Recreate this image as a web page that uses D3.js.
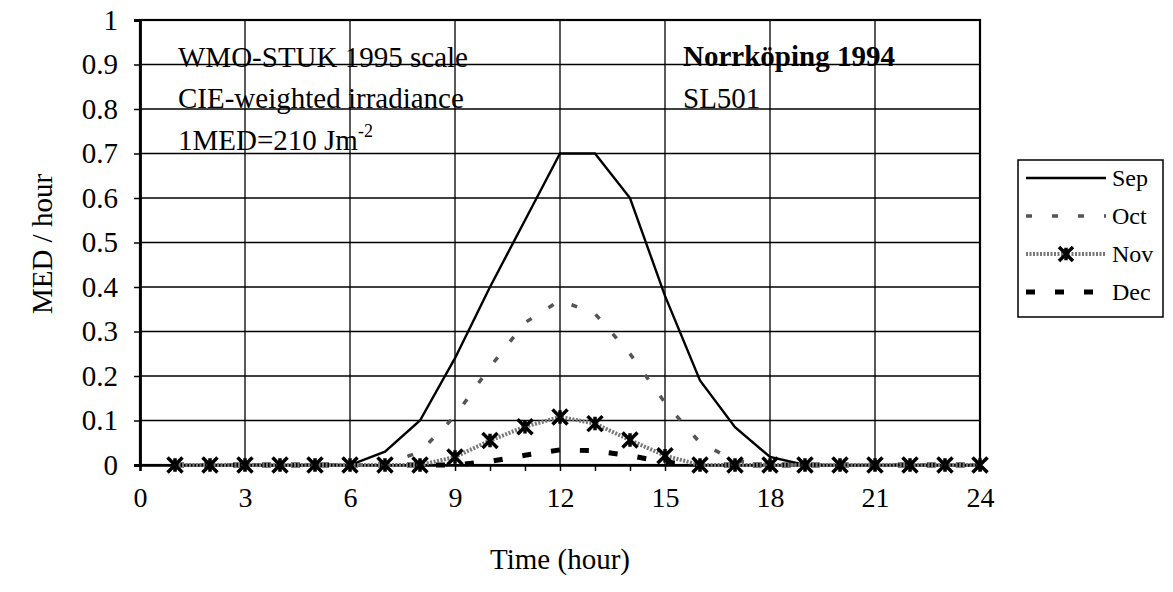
<!DOCTYPE html>
<html><head><meta charset="utf-8">
<script src="https://cdn.jsdelivr.net/npm/d3@7"></script>
<style>body{margin:0;background:#fff}svg{display:block}text{font-family:"Liberation Serif","Times New Roman",serif;fill:#000}</style>
</head><body><svg id="c" width="1173" height="592"></svg>
<script>
const hours = d3.range(1, 25);
const sep = [0,0,0,0,0,0,0.03,0.10,0.24,0.40,0.55,0.70,0.70,0.60,0.38,0.19,0.085,0.018,0,0,0,0,0,0];
const oct = [0,0,0,0,0,0,0,0.03,0.11,0.22,0.32,0.37,0.34,0.25,0.14,0.05,0.01,0,0,0,0,0,0,0];
const nov = [0,0,0,0,0,0,0,0,0.018,0.055,0.086,0.108,0.093,0.056,0.021,0,0,0,0,0,0,0,0,0];
const dec = [0,0,0,0,0,0,0,0,0,0.008,0.022,0.034,0.032,0.021,0.006,0,0,0,0,0,0,0,0,0];
const seriesNames = ["Sep","Oct","Nov","Dec"];
const xTicks = [0,3,6,9,12,15,18,21,24];
const yTicks = [0,0.1,0.2,0.3,0.4,0.5,0.6,0.7,0.8,0.9,1];
const notesLeft = ["WMO-STUK 1995 scale","CIE-weighted irradiance"];
const notesRight = ["Norrköping 1994","SL501"];

const svg = d3.select("#c");
const x = d3.scaleLinear().domain([0,24]).range([140,980]);
const y = d3.scaleLinear().domain([0,1]).range([465,20]);
const FF = '"Liberation Serif","Times New Roman",serif';

// grid
svg.append("g").selectAll("line").data(yTicks.slice(1)).join("line")
  .attr("x1",x(0)).attr("x2",x(24)).attr("y1",d=>y(d)).attr("y2",d=>y(d))
  .attr("stroke","#000").attr("stroke-width",1.3);
svg.append("g").selectAll("line").data(xTicks.slice(1)).join("line")
  .attr("x1",d=>x(d)).attr("x2",d=>x(d)).attr("y1",y(0)).attr("y2",y(1))
  .attr("stroke","#000").attr("stroke-width",1.3);
// frame
svg.append("rect").attr("x",x(0)).attr("y",y(1)).attr("width",x(24)-x(0)).attr("height",y(0)-y(1))
  .attr("fill","none").attr("stroke","#000").attr("stroke-width",2.2);

// axes
const xAxis = d3.axisBottom(x).tickValues(d3.range(0,25)).tickSize(6).tickFormat(d=>xTicks.includes(d)?d:"");
const gx = svg.append("g").attr("transform",`translate(0,${y(0)})`).call(xAxis);
gx.select(".domain").attr("stroke","#000").attr("stroke-width",2.5);
gx.selectAll(".tick line").attr("stroke","#000").attr("stroke-width",1.5);
gx.selectAll(".tick text").attr("font-size",28).attr("y",42).attr("dy",null).style("font-family",FF);

const yAxis = d3.axisLeft(y).tickValues(yTicks).tickSize(6).tickFormat(d=>d===0?"0":d===1?"1":d3.format(".1f")(d));
const gy = svg.append("g").attr("transform",`translate(${x(0)},0)`).call(yAxis);
gy.select(".domain").attr("stroke","#000").attr("stroke-width",2.8);
gy.selectAll(".tick line").attr("stroke","#000").attr("stroke-width",1.5);
gy.selectAll(".tick text").attr("font-size",29).attr("x",-22).style("font-family",FF);

// axis titles
svg.append("text").attr("x",560).attr("y",569).attr("text-anchor","middle").attr("font-size",29).text("Time (hour)");
svg.append("text").attr("transform","translate(52,244) rotate(-90)").attr("text-anchor","middle").attr("font-size",29).text("MED / hour");

// notes
svg.append("g").selectAll("text").data(notesLeft).join("text")
  .attr("x",178).attr("y",(d,i)=>67+i*41).attr("font-size",29).text(d=>d);
const t3 = svg.append("text").attr("x",178).attr("y",150).attr("font-size",29);
t3.append("tspan").text("1MED=210 Jm");
t3.append("tspan").attr("dy",-13).attr("font-size",18).text("-2");
svg.append("g").selectAll("text").data(notesRight).join("text")
  .attr("x",683).attr("y",(d,i)=>66+i*42).attr("font-size",29)
  .attr("font-weight",(d,i)=>i===0?"bold":"normal").text(d=>d);

const line = d3.line().x(d=>x(d[0])).y(d=>y(d[1]));
const pts = arr => hours.map((h,i)=>[h,arr[i]]);

// Dec
svg.append("path").attr("d",line(pts(dec))).attr("fill","none").attr("stroke","#000")
  .attr("stroke-width",5).attr("stroke-dasharray","9,20");
// Oct
svg.append("path").attr("d",line(pts(oct))).attr("fill","none").attr("stroke","#555")
  .attr("stroke-width",3.5).attr("stroke-dasharray","6,20");
// Sep
svg.append("path").attr("d",line(pts(sep))).attr("fill","none").attr("stroke","#000").attr("stroke-width",2.4);
// Nov
svg.append("path").attr("d",line(pts(nov))).attr("fill","none").attr("stroke","#777")
  .attr("stroke-width",4).attr("stroke-dasharray","2,1.5");
function star(g, cx, cy, s){
  g.append("path").attr("d",`M${cx-s},${cy-s}L${cx+s},${cy+s}M${cx-s},${cy+s}L${cx+s},${cy-s}M${cx},${cy-s*0.9}L${cx},${cy+s*0.9}`)
   .attr("stroke","#000").attr("stroke-width",3.5).attr("fill","none");
}
const mk = svg.append("g");
pts(nov).forEach(p=>star(mk, x(p[0]), y(p[1]), 7.5));

// legend
const lg = svg.append("g");
lg.append("rect").attr("x",1018).attr("y",160).attr("width",145).attr("height",157)
  .attr("fill","#fff").attr("stroke","#000").attr("stroke-width",1.5);
const ly = d3.scalePoint().domain(seriesNames).range([178,292]);
const styles = {
  Sep:{stroke:"#000",w:2.4,dash:null},
  Oct:{stroke:"#555",w:3.5,dash:"6,20"},
  Nov:{stroke:"#777",w:4,dash:"2,1.5"},
  Dec:{stroke:"#000",w:5,dash:"9,20"}
};
seriesNames.forEach(n=>{
  const s = styles[n];
  lg.append("line").attr("x1",1026).attr("x2",1106).attr("y1",ly(n)).attr("y2",ly(n))
    .attr("stroke",s.stroke).attr("stroke-width",s.w).attr("stroke-dasharray",s.dash);
  if(n==="Nov") star(lg, 1066, ly(n), 7);
  lg.append("text").attr("x",1112).attr("y",ly(n)).attr("dy","0.35em").attr("font-size",24).text(n);
});
</script></body></html>
